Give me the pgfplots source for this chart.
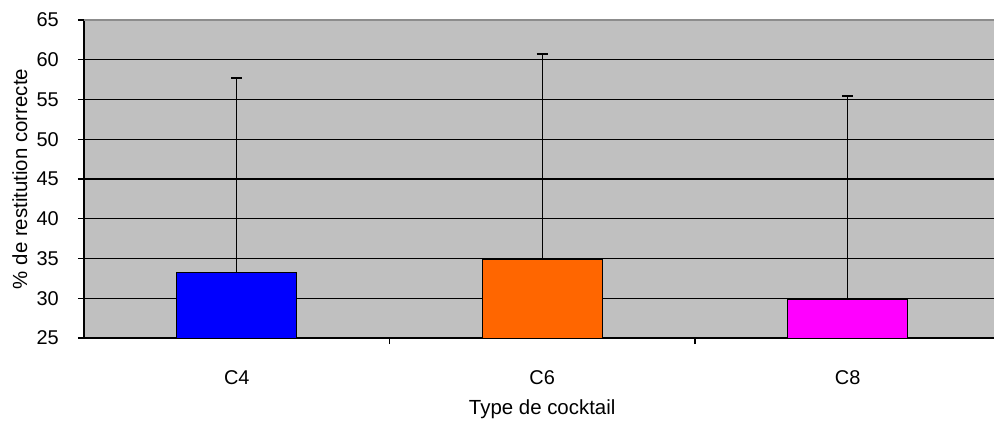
\documentclass[border=0pt]{standalone}
\usepackage{fontspec}
\setmainfont{Liberation Sans}
\usepackage{pgfplots}
\pgfplotsset{compat=1.18}
\definecolor{bggray}{HTML}{C0C0C0}
\definecolor{topgray}{HTML}{8C8C8C}
\definecolor{barblue}{HTML}{0000FF}
\definecolor{barorange}{HTML}{FF6600}
\definecolor{barmagenta}{HTML}{FF00FF}
\begin{document}
\begin{tikzpicture}
\begin{axis}[
  at={(0,0)}, anchor=south west,
  scale only axis, width=910bp, height=318bp,
  xmin=-0.5, xmax=2.479, ymin=25, ymax=65,
  axis x line=bottom, axis y line=left,
  axis line style={-, black, line width=1.2pt},
  axis background/.style={fill=bggray},
  ytick={25,30,...,60},
  extra y ticks={65},
  extra y tick style={grid=major, major grid style={topgray, line width=1.2pt}},
  ymajorgrids, major grid style={black, line width=1.2pt},
  ytick align=outside, major tick length=6bp,
  ytick style={black, line width=1.2pt},
  xtick={0,1,2}, xticklabels={C4,C6,C8},
  xtick style={draw=none},
  extra x ticks={0.5,1.5},
  extra x tick labels={},
  extra x tick style={xtick style={draw=black, line width=1.2pt}, xtick align=outside, major tick length=6bp},
  /pgf/number format/assume math mode=true,
  tick label style={font=\fontsize{20}{24}\selectfont},
  yticklabel style={anchor=east, inner sep=0pt, xshift=-19bp},
  xticklabel style={anchor=base, inner sep=0pt, yshift=-40bp},
  label style={font=\fontsize{20.5}{24}\selectfont},
  xlabel={Type de cocktail},
  xlabel style={at={(axis description cs:0.5035,-0.2421)}, anchor=base, inner sep=0pt},
  ylabel={\% de restitution correcte},
  ylabel style={at={(axis description cs:-0.0626,0.5)}, anchor=base, inner sep=0pt, rotate=0},
  ybar, bar width=120bp, bar shift=0pt,
  error bars/y dir=plus, error bars/y explicit,
  error bars/error bar style={black, line width=1.3pt},
  error bars/error mark options={rotate=90, black, line width=2pt, mark size=5.5bp},
  clip=false,
]
\addplot[fill=barblue, draw=black, line width=0.9pt] coordinates {(0,33.3) +- (0,24.4)};
\addplot[fill=barorange, draw=black, line width=0.9pt] coordinates {(1,34.9) +- (0,25.8)};
\addplot[fill=barmagenta, draw=black, line width=0.9pt] coordinates {(2,29.8) +- (0,25.6)};
\end{axis}
\pgfresetboundingbox
\path[use as bounding box] (-84bp,-83bp) rectangle (910bp,338bp);
\end{tikzpicture}
\end{document}
